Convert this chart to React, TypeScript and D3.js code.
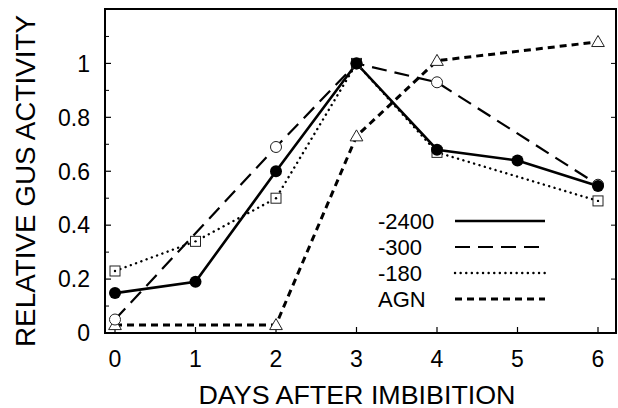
import * as d3 from 'd3';

const days = [0, 1, 2, 3, 4, 5, 6];
const yTicks = [0, 0.2, 0.4, 0.6, 0.8, 1];
const yMinor = [0.1, 0.3, 0.5, 0.7, 0.9, 1.1];

// -2400 (solid, filled circles)
const s2400Days = [0, 1, 2, 3, 4, 5, 6];
const s2400 = [0.148, 0.19, 0.6, 1.0, 0.68, 0.64, 0.545];
// -300 (long dash, open circles)
const s300Days = [0, 2, 3, 4, 6];
const s300 = [0.05, 0.69, 1.0, 0.93, 0.55];
// -180 (dotted, dotted squares)
const s180Days = [0, 1, 2, 3, 4, 6];
const s180 = [0.23, 0.34, 0.5, 1.0, 0.67, 0.49];
// AGN (short dash, open triangles)
const agnDays = [0, 2, 3, 4, 6];
const agn = [0.03, 0.03, 0.73, 1.01, 1.08];

const legendNames = ['-2400', '-300', '-180', 'AGN'];

const font = '"Liberation Sans", Arial, Helvetica, sans-serif';

export default function App() {
  const left = 105, right = 616, top = 9, bottom = 333;
  const x = d3.scaleLinear().domain([0, 6]).range([115, 598]);
  const y = d3.scaleLinear().domain([0, 1.2]).range([bottom, top + 0.5]);

  const mk = (ds: number[], vs: number[]) => ds.map((d, i) => [d, vs[i]] as [number, number]);
  const line = d3.line<[number, number]>().x(d => x(d[0])).y(d => y(d[1]));

  const series = [
    { name: '-2400', pts: mk(s2400Days, s2400), dash: '', w: 2.6, cap: 'butt' },
    { name: '-300', pts: mk(s300Days, s300), dash: '15,8', w: 2.2, cap: 'butt' },
    { name: '-180', pts: mk(s180Days, s180), dash: '0.1,5.5', w: 2.4, cap: 'round' },
    { name: 'AGN', pts: mk(agnDays, agn), dash: '7,5', w: 3, cap: 'butt' },
  ];

  const marker = (name: string, cx: number, cy: number, key: string) => {
    if (name === '-2400') return <circle key={key} cx={cx} cy={cy} r={6} fill="#000" />;
    if (name === '-300') return <circle key={key} cx={cx} cy={cy} r={5.5} fill="#fff" stroke="#222" strokeWidth={1} />;
    if (name === '-180')
      return (
        <g key={key}>
          <rect x={cx - 5} y={cy - 5} width={10} height={10} fill="#fff" stroke="#222" strokeWidth={1} />
          <circle cx={cx} cy={cy} r={1.2} fill="#000" />
        </g>
      );
    const tri = d3.symbol(d3.symbolTriangle, 70)();
    return <path key={key} d={tri || ''} transform={`translate(${cx},${cy + 1})`} fill="#fff" stroke="#222" strokeWidth={1} />;
  };

  return (
    <svg width={618} height={408} style={{ position: 'absolute', left: 0, top: 0, background: '#fff' }} fontFamily={font}>
      <rect x={left} y={top} width={right - left} height={bottom - top} fill="#fff" stroke="#000" strokeWidth={2} />

      {/* ticks */}
      {yTicks.map(t => (
        <line key={'yt' + t} x1={left} x2={left + 6} y1={y(t)} y2={y(t)} stroke="#000" strokeWidth={1.2} />
      ))}
      {yMinor.map(t => (
        <line key={'ym' + t} x1={left} x2={left + 4} y1={y(t)} y2={y(t)} stroke="#000" strokeWidth={1} />
      ))}
      {yTicks.map(t => (
        <line key={'yr' + t} x1={right} x2={right - 5} y1={y(t)} y2={y(t)} stroke="#000" strokeWidth={1} />
      ))}
      {days.map(d => (
        <line key={'xt' + d} x1={x(d)} x2={x(d)} y1={bottom} y2={bottom - 6} stroke="#000" strokeWidth={1.2} />
      ))}

      {yTicks.map(t => (
        <text key={'yl' + t} x={90} y={y(t)} dy="0.36em" textAnchor="end" fontSize={23}>
          {t === 0 || t === 1 ? String(t) : t.toFixed(1)}
        </text>
      ))}
      {days.map(d => (
        <text key={'xl' + d} x={x(d)} y={367} textAnchor="middle" fontSize={23}>
          {d}
        </text>
      ))}

      <text x={357} y={404} textAnchor="middle" fontSize={25} textLength={317} lengthAdjust="spacingAndGlyphs">
        DAYS AFTER IMBIBITION
      </text>
      <text
        transform="translate(35,181) rotate(-90)"
        textAnchor="middle"
        fontSize={28}
        textLength={332}
        lengthAdjust="spacingAndGlyphs"
      >
        RELATIVE GUS ACTIVITY
      </text>

      {/* lines */}
      {series.map(s => (
        <path
          key={'l' + s.name}
          d={line(s.pts) || ''}
          fill="none"
          stroke="#000"
          strokeWidth={s.w}
          strokeDasharray={s.dash || undefined}
          strokeLinecap={s.cap as any}
        />
      ))}
      {/* markers: open ones first, filled circles on top */}
      {[series[3], series[2], series[1], series[0]].map(s =>
        s.pts.map((p, i) => marker(s.name, x(p[0]), y(p[1]), s.name + i))
      )}

      {/* legend */}
      {legendNames.map((n, i) => {
        const s = series[i];
        const ly = 221 + i * 26;
        return (
          <g key={'lg' + n}>
            <text x={378} y={ly} dy="0.36em" fontSize={22}>
              {n}
            </text>
            <line
              x1={455}
              x2={545}
              y1={ly}
              y2={ly}
              stroke="#000"
              strokeWidth={s.w}
              strokeDasharray={s.dash || undefined}
              strokeLinecap={s.cap as any}
            />
          </g>
        );
      })}
    </svg>
  );
}
